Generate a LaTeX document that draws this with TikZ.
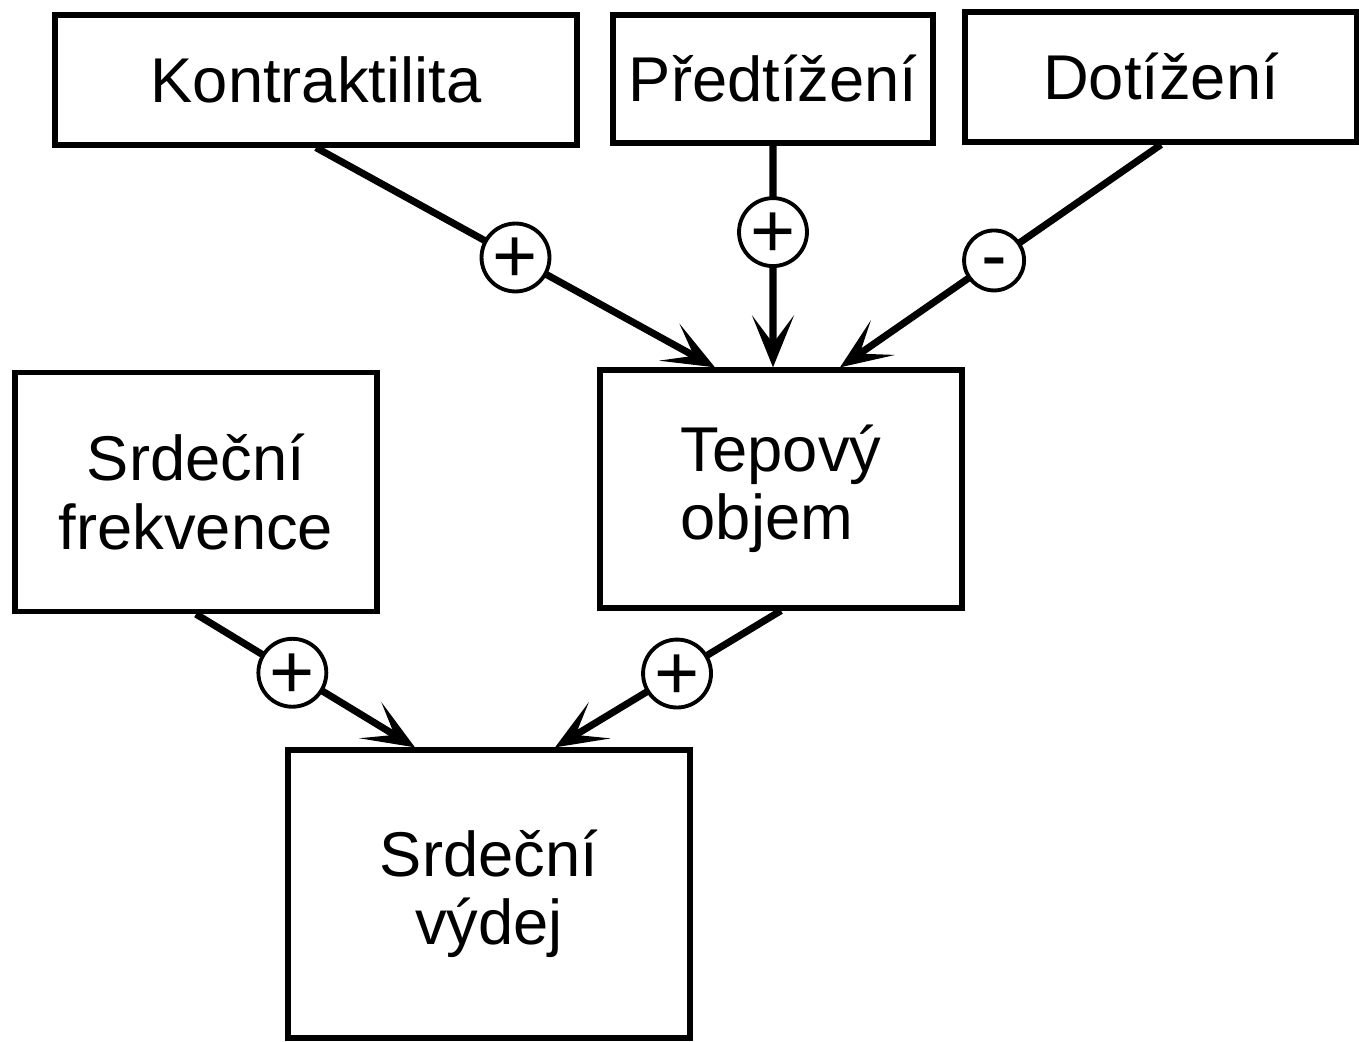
\documentclass[tikz,border=0pt]{standalone}
\usepackage{fontspec}
\setmainfont{Liberation Sans}
\usetikzlibrary{arrows.meta}

\begin{document}
\begin{tikzpicture}
	\tikzstyle{box}  = [draw=black, line width=1.5pt, fill=white, inner sep=0pt, align=center, font=\fontsize{18}{19.5}\selectfont]
	\tikzstyle{sign} = [circle, draw=black, line width=1.1pt, fill=white, minimum size=0.6cm, inner sep=0pt, text height=14.5pt, text depth=0pt, font=\fontsize{22}{22}\selectfont]
	\tikzstyle{arr}  = [line width=2pt, -{Stealth[length=0.52cm, width=0.42cm, inset=0.28cm]}]

	\useasboundingbox (0,0) rectangle (13.59,10.41);

	% horni rada
	\node[box, minimum width=5.22cm, minimum height=1.30cm] (kontr) at (3.16, 9.61) {Kontraktilita};
	\node[box, minimum width=3.20cm, minimum height=1.28cm] (pred) at (7.73, 9.62) {Předtížení};
	\node[box, minimum width=3.92cm, minimum height=1.30cm] (dot) at (11.61, 9.64) {Dotížení};

	% stredni rada
	\node[box, minimum width=3.62cm, minimum height=2.39cm] (frek) at (1.96, 5.49) {Srdeční\\frekvence};
	\node[box, minimum width=3.62cm, minimum height=2.38cm, align=left] (tep) at (7.81, 5.52) {Tepový\\objem};

	% dole
	\node[box, minimum width=4.02cm, minimum height=2.88cm] (vydej) at (4.89, 1.47) {Srdeční\\výdej};

	\foreach \from/\to/\dx/\p/\s in {kontr/tep/-0.66/0.5/+, pred/tep/-0.08/0.39/+, dot/tep/0.59/0.52/\raisebox{1.2pt}{-}, frek/vydej/-0.74/0.44/+, tep/vydej/0.66/0.46/+}
		\draw[arr] (\from.south) -- node[sign, pos=\p] {\s} ([xshift=\dx cm]\to.north);

\end{tikzpicture}
\end{document}
